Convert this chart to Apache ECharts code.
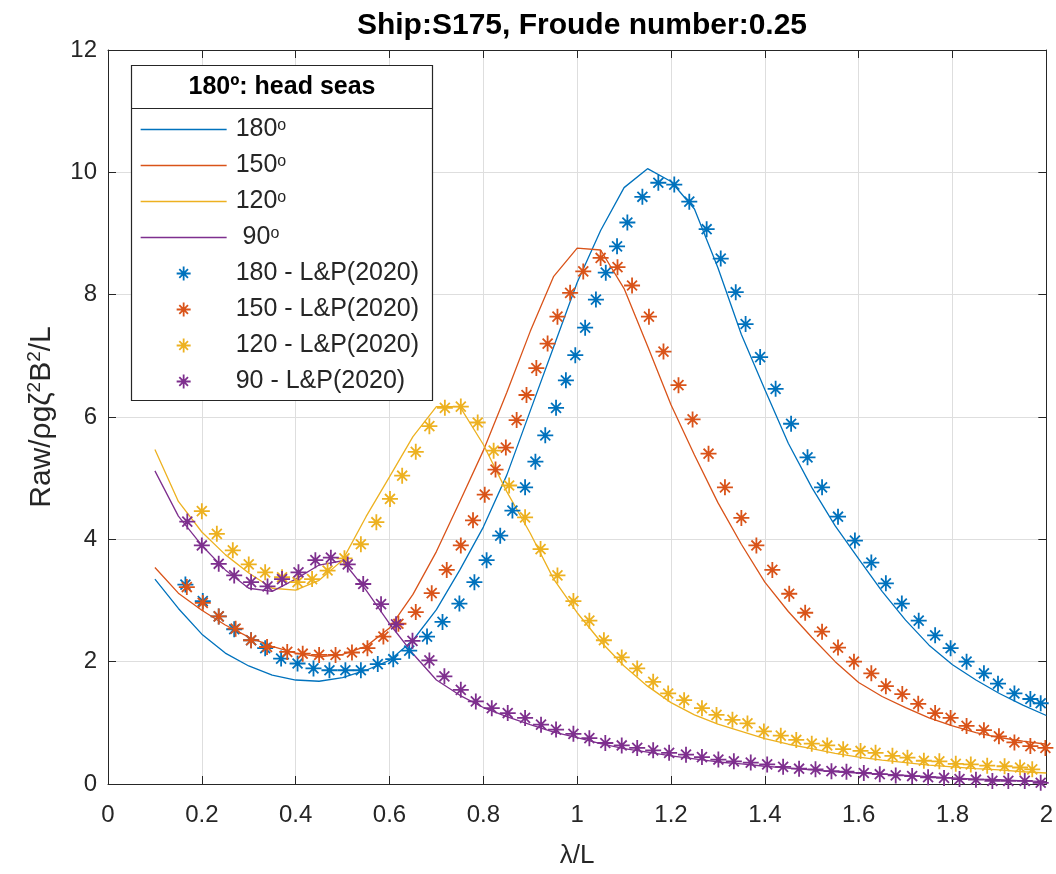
<!DOCTYPE html>
<html>
<head>
<meta charset="utf-8">
<script src="https://cdn.jsdelivr.net/npm/echarts@6/dist/echarts.min.js"></script>
<style>
  html, body { margin: 0; padding: 0; background: #ffffff; }
  #chart { width: 1056px; height: 874px; }
</style>
</head>
<body>
<div id="chart"></div>
<script>
// ---------- data ----------
const xTicks = [0, 0.2, 0.4, 0.6, 0.8, 1, 1.2, 1.4, 1.6, 1.8, 2];
const yTicks = [0, 2, 4, 6, 8, 10, 12];

// computed curves (lambda/L sampled)
const lineX = [0.10,0.15,0.20,0.25,0.30,0.35,0.40,0.45,0.50,0.55,0.60,0.65,0.70,0.75,0.80,0.85,0.90,0.95,1.00,1.05,1.10,1.15,1.20,1.25,1.30,1.35,1.40,1.45,1.50,1.55,1.60,1.65,1.70,1.75,1.80,1.85,1.90,1.95,2.00];
const line180 = [3.35,2.87,2.45,2.14,1.93,1.78,1.70,1.68,1.74,1.86,2.02,2.35,2.85,3.50,4.20,5.05,6.10,7.15,8.20,9.05,9.75,10.06,9.85,9.40,8.44,7.35,6.45,5.57,4.85,4.22,3.68,3.15,2.68,2.27,1.95,1.70,1.48,1.29,1.12];
const line150 = [3.54,3.12,2.84,2.60,2.40,2.25,2.14,2.08,2.12,2.25,2.55,3.10,3.80,4.62,5.45,6.40,7.40,8.30,8.76,8.73,8.10,7.16,6.20,5.38,4.60,3.92,3.30,2.82,2.40,2.00,1.66,1.43,1.25,1.08,0.95,0.84,0.76,0.70,0.65];
const line120 = [5.47,4.62,4.12,3.75,3.45,3.20,3.17,3.33,3.66,4.37,5.02,5.68,6.17,6.17,5.55,4.78,4.10,3.35,2.80,2.33,1.93,1.60,1.33,1.13,0.98,0.86,0.74,0.65,0.58,0.50,0.44,0.39,0.35,0.31,0.28,0.25,0.23,0.20,0.18];
const line90  = [5.12,4.38,3.90,3.50,3.20,3.15,3.35,3.58,3.65,3.17,2.62,2.13,1.70,1.45,1.25,1.10,0.97,0.85,0.76,0.66,0.58,0.52,0.46,0.41,0.36,0.33,0.29,0.26,0.23,0.20,0.18,0.16,0.14,0.12,0.10,0.08,0.07,0.05,0.04];

// L&P (2020) reference points
const lp180X = [0.165,0.202,0.236,0.269,0.305,0.335,0.369,0.404,0.438,0.472,0.506,0.539,0.575,0.608,0.642,0.680,0.713,0.749,0.781,0.807,0.836,0.862,0.889,0.911,0.932,0.955,0.976,0.996,1.017,1.040,1.061,1.085,1.107,1.139,1.173,1.207,1.239,1.276,1.306,1.338,1.359,1.390,1.423,1.456,1.491,1.522,1.556,1.592,1.627,1.658,1.692,1.728,1.763,1.796,1.830,1.867,1.897,1.932,1.966,1.988];
const lp180Y = [3.26,2.99,2.74,2.53,2.35,2.22,2.05,1.97,1.89,1.86,1.86,1.86,1.96,2.04,2.18,2.41,2.65,2.95,3.30,3.66,4.06,4.47,4.85,5.27,5.70,6.15,6.60,7.01,7.46,7.92,8.36,8.79,9.18,9.60,9.83,9.80,9.52,9.07,8.59,8.04,7.52,6.98,6.46,5.89,5.34,4.85,4.37,3.98,3.62,3.28,2.95,2.67,2.43,2.22,2.00,1.81,1.64,1.48,1.39,1.32];

const lp150X = [0.168,0.202,0.236,0.272,0.305,0.339,0.382,0.415,0.450,0.485,0.520,0.553,0.587,0.619,0.656,0.690,0.722,0.752,0.778,0.803,0.826,0.848,0.871,0.892,0.913,0.937,0.958,0.985,1.013,1.050,1.086,1.117,1.153,1.184,1.216,1.246,1.280,1.315,1.350,1.382,1.416,1.452,1.486,1.522,1.556,1.590,1.627,1.658,1.693,1.727,1.763,1.796,1.830,1.867,1.899,1.932,1.966,1.998];
const lp150Y = [3.22,2.96,2.74,2.54,2.35,2.24,2.16,2.13,2.11,2.11,2.15,2.22,2.41,2.62,2.81,3.12,3.50,3.90,4.31,4.73,5.14,5.50,5.95,6.36,6.80,7.20,7.64,8.03,8.38,8.60,8.45,8.15,7.64,7.07,6.52,5.96,5.40,4.85,4.35,3.90,3.50,3.11,2.80,2.49,2.23,2.00,1.81,1.60,1.47,1.31,1.16,1.08,0.95,0.88,0.78,0.68,0.62,0.59];

const lp120X = [0.200,0.232,0.266,0.300,0.335,0.371,0.404,0.435,0.468,0.504,0.539,0.572,0.601,0.627,0.656,0.685,0.718,0.752,0.788,0.822,0.855,0.889,0.922,0.958,0.992,1.026,1.057,1.095,1.128,1.162,1.194,1.228,1.266,1.297,1.331,1.363,1.398,1.434,1.467,1.500,1.533,1.567,1.604,1.636,1.672,1.704,1.739,1.772,1.807,1.839,1.874,1.911,1.944,1.970];
const lp120Y = [4.46,4.09,3.82,3.59,3.46,3.38,3.30,3.35,3.49,3.69,3.92,4.28,4.66,5.04,5.43,5.85,6.15,6.17,5.91,5.45,4.88,4.36,3.84,3.41,2.99,2.67,2.35,2.07,1.89,1.67,1.48,1.37,1.24,1.13,1.05,0.99,0.86,0.79,0.72,0.66,0.63,0.57,0.54,0.51,0.46,0.43,0.38,0.37,0.33,0.32,0.30,0.29,0.27,0.24];

const lp90X = [0.169,0.200,0.236,0.269,0.305,0.340,0.371,0.406,0.442,0.475,0.511,0.544,0.582,0.614,0.649,0.685,0.717,0.752,0.784,0.818,0.852,0.889,0.923,0.955,0.992,1.026,1.060,1.095,1.128,1.162,1.196,1.232,1.266,1.301,1.334,1.370,1.405,1.439,1.473,1.508,1.542,1.574,1.611,1.645,1.679,1.714,1.748,1.782,1.815,1.850,1.885,1.919,1.954,1.988];
const lp90Y = [4.29,3.90,3.60,3.41,3.30,3.23,3.35,3.46,3.66,3.70,3.59,3.27,2.94,2.61,2.34,2.02,1.76,1.54,1.35,1.24,1.16,1.08,0.97,0.89,0.82,0.75,0.67,0.63,0.59,0.55,0.51,0.48,0.44,0.40,0.37,0.35,0.32,0.28,0.25,0.24,0.21,0.20,0.18,0.16,0.14,0.13,0.11,0.10,0.08,0.07,0.05,0.05,0.05,0.02];

const lineNames = ['180', '150', '120', ' 90'];
const markerNames = ['180 - L&P(2020)', '150 - L&P(2020)', '120 - L&P(2020)', '90 - L&P(2020)'];
const colors = ['#0072BD', '#D95319', '#EDB120', '#7E2F8E'];
const titleText = 'Ship:S175, Froude number:0.25';
const legendTitle = '180º: head seas';
const xName = 'λ/L';

// ---------- build ----------
const FONT = '"Liberation Sans", Arial, Helvetica, sans-serif';
const TXT = '#262626';
const STAR = 'path://M0,-1L0,1M-1,0L1,0M-0.62,-0.62L0.62,0.62M-0.62,0.62L0.62,-0.62';
const LINE_ICON = 'path://M0,0M0,7L86,7M86,14';

function pairs(xs, ys) { return xs.map((x, i) => [x, ys[i]]); }

const lineData = [line180, line150, line120, line90];
const lpData = [[lp180X, lp180Y], [lp150X, lp150Y], [lp120X, lp120Y], [lp90X, lp90Y]];

const series = [];
lineData.forEach((ys, i) => {
  series.push({
    name: lineNames[i] + 'deg',
    type: 'line',
    data: pairs(lineX, ys),
    symbol: 'none',
    lineStyle: { color: colors[i], width: 1.3 },
    itemStyle: { color: colors[i] },
    z: 3
  });
});
lpData.forEach((d, i) => {
  series.push({
    name: markerNames[i],
    type: 'scatter',
    data: pairs(d[0], d[1]),
    symbol: STAR,
    symbolSize: 16,
    symbolKeepAspect: true,
    itemStyle: { color: 'rgba(0,0,0,0)', borderColor: colors[i], borderWidth: 1.8, opacity: 1 },
    z: 4
  });
});

const legendData = [];
lineNames.forEach((n, i) => legendData.push({
  name: n + 'deg', icon: LINE_ICON,
  itemStyle: { color: 'rgba(0,0,0,0)', borderColor: colors[i], borderWidth: 1.3 }
}));
markerNames.forEach((n, i) => legendData.push({
  name: n, icon: STAR,
  itemStyle: { color: 'rgba(0,0,0,0)', borderColor: colors[i], borderWidth: 1.8 }
}));

const axisCommon = {
  type: 'value',
  axisLine: { show: true, onZero: false, lineStyle: { color: TXT, width: 1 } },
  axisTick: { show: true, inside: true, length: 8, lineStyle: { color: TXT, width: 1 } },
};

const option = {
  animation: false,
  backgroundColor: '#ffffff',
  textStyle: { fontFamily: FONT },
  title: {
    text: titleText,
    left: 577, top: 6, textAlign: 'center',
    textStyle: { fontFamily: FONT, fontSize: 30, fontWeight: 'bold', color: '#000000' }
  },
  grid: { left: 108, right: 9, top: 50, bottom: 86, containLabel: false },
  xAxis: [
    Object.assign({}, axisCommon, {
      position: 'bottom', min: xTicks[0], max: xTicks[xTicks.length - 1], interval: 0.2,
      name: xName, nameLocation: 'middle', nameGap: 59,
      nameTextStyle: { fontFamily: FONT, fontSize: 26, color: TXT },
      axisLabel: { show: true, margin: 19, fontSize: 24, color: TXT, fontFamily: FONT },
      splitLine: { show: true, lineStyle: { color: '#dedede', width: 1 } }
    }),
    Object.assign({}, axisCommon, {
      position: 'top', min: xTicks[0], max: xTicks[xTicks.length - 1], interval: 0.2,
      axisLabel: { show: false }, splitLine: { show: false }
    })
  ],
  yAxis: [
    Object.assign({}, axisCommon, {
      position: 'left', min: yTicks[0], max: yTicks[yTicks.length - 1], interval: 2,
      name: 'Raw/ρgζ{sup|2}B{sup|2}/L', nameLocation: 'middle', nameGap: 50,
      nameTextStyle: {
        fontFamily: FONT, fontSize: 30, color: TXT,
        rich: { sup: { fontFamily: FONT, fontSize: 19, color: TXT, padding: [0, 0, 14, 0] } }
      },
      axisLabel: { show: true, margin: 11, fontSize: 24, color: TXT, fontFamily: FONT },
      splitLine: { show: true, lineStyle: { color: '#dedede', width: 1 } }
    }),
    Object.assign({}, axisCommon, {
      position: 'right', min: yTicks[0], max: yTicks[yTicks.length - 1], interval: 2,
      axisLabel: { show: false }, splitLine: { show: false }
    })
  ],
  legend: {
    orient: 'vertical',
    left: 140, top: 117,
    padding: 0,
    itemWidth: 86, itemHeight: 14, itemGap: 11,
    z: 120,
    data: legendData,
    formatter: function (name) {
      if (name.endsWith('deg')) return name.slice(0, -3) + '{sup|o}';
      return name;
    },
    textStyle: {
      fontFamily: FONT, fontSize: 25, color: TXT, lineHeight: 24, padding: [0, 0, 0, 4],
      rich: { sup: { fontFamily: FONT, fontSize: 16, lineHeight: 16, color: TXT, padding: [0, 0, 8, 0] } }
    },
    selectedMode: false
  },
  graphic: {
    elements: [
      { type: 'rect', z: 100, zlevel: 0, shape: { x: 131.5, y: 65.5, width: 301, height: 335 },
        style: { fill: '#ffffff', stroke: TXT, lineWidth: 1.2 } },
      { type: 'line', z: 101, shape: { x1: 131.5, y1: 108.5, x2: 432.5, y2: 108.5 },
        style: { stroke: TXT, lineWidth: 1.2 } },
      { type: 'text', z: 101, x: 282, y: 87,
        style: { text: legendTitle, fontFamily: FONT, fontSize: 25, fontWeight: 'bold', fill: '#000000',
                 align: 'center', verticalAlign: 'middle' } }
    ]
  },
  series: series
};

const chart = echarts.init(document.getElementById('chart'), null, { renderer: 'canvas' });
chart.setOption(option);
</script>
</body>
</html>
